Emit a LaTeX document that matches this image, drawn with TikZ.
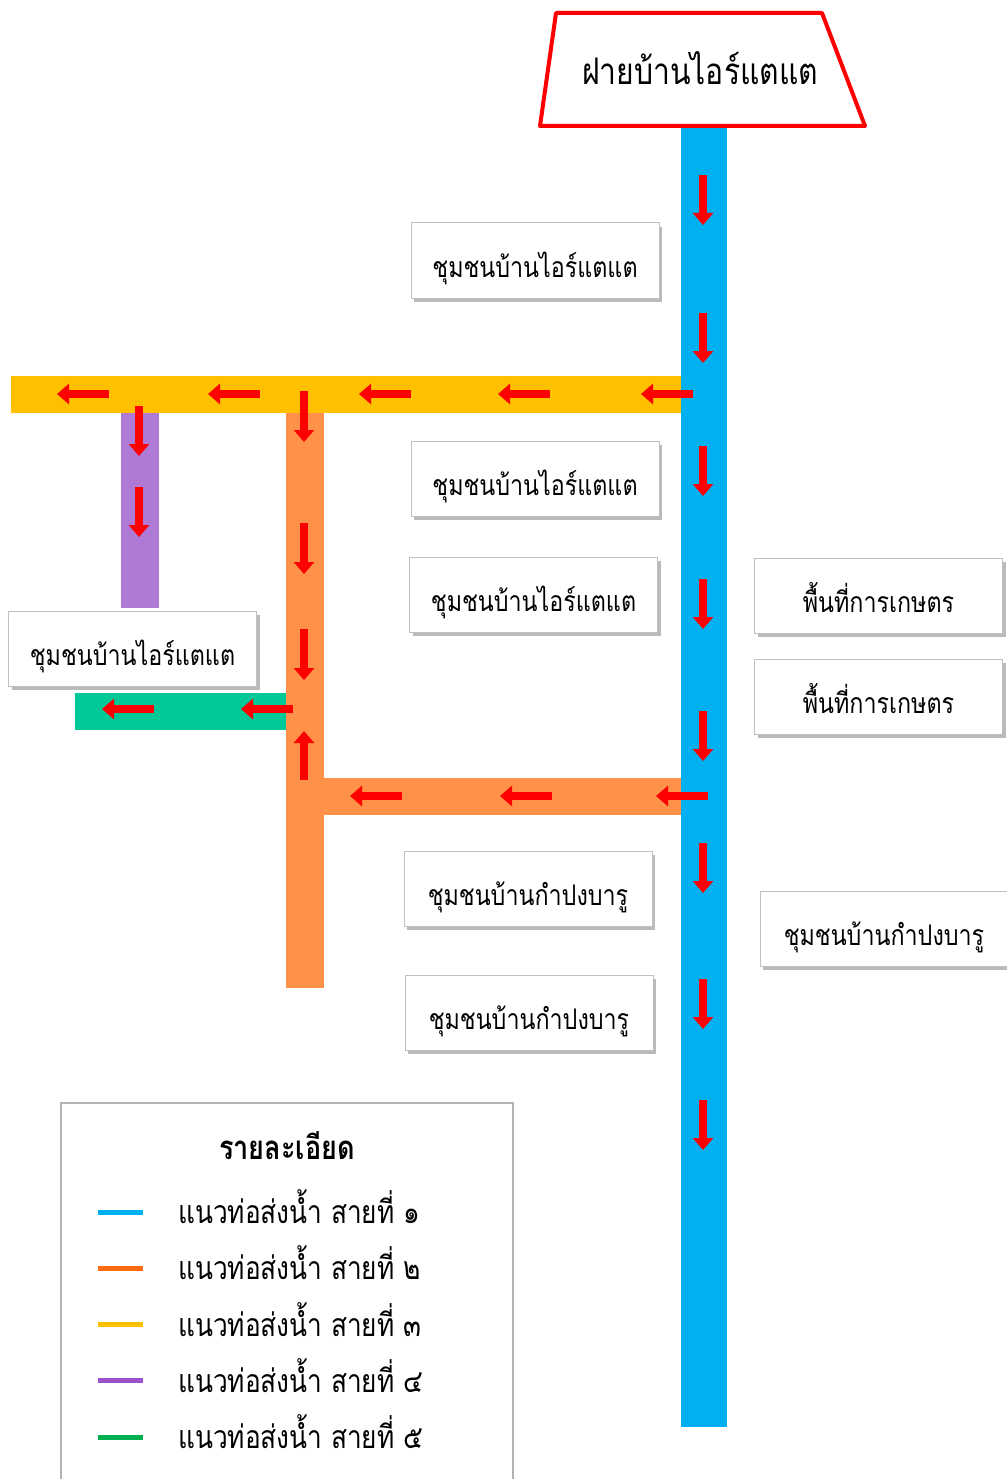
\documentclass[tikz,border=0pt]{standalone}
\usepackage{fontspec}
\newfontfamily\thaifont[Script=Thai,FakeStretch=0.82]{Loma}
\usetikzlibrary{arrows.meta,shadows}

\definecolor{pipeblue}{HTML}{00B0F0}
\definecolor{pipeorange}{HTML}{FF9148}
\definecolor{pipeyellow}{HTML}{FFC000}
\definecolor{pipepurple}{HTML}{AE7AD6}
\definecolor{pipegreen}{HTML}{00C896}
\definecolor{keyorange}{HTML}{FF6A10}
\definecolor{keypurple}{HTML}{9B50CC}
\definecolor{keygreen}{HTML}{00B050}

\tikzset{
  place/.style={draw=black!25, line width=1pt, fill=white, minimum width=248pt,
    minimum height=75pt, inner sep=0pt, text height=34pt, text depth=0pt,
    font=\thaifont\fontsize{28.4}{28}\selectfont,
    drop shadow={shadow xshift=3pt, shadow yshift=-4pt, fill=black!45, opacity=.6}},
  flowarrow/.style={red, line width=8pt, -{Triangle[width=20pt,length=12pt]}},
  keyline/.style={line width=5pt},
}

% pipe segment: x1 y1 x2 y2 colour
\NewDocumentCommand{\pipe}{mmmmm}{%
\fill[#5] (#1,#2) rectangle (#3,#4);%chktex 1
}

\begin{document}
\begin{tikzpicture}[x=1pt,y=-1pt]
\useasboundingbox (0,0) rectangle (1006,1479);

% pipes
\pipe{11}{376}{681}{413}{pipeyellow}
\pipe{121}{413}{159}{608}{pipepurple}
\pipe{75}{693}{286}{730}{pipegreen}
\pipe{286}{413}{324}{988}{pipeorange}
\pipe{324}{778}{681}{815}{pipeorange}
\pipe{681}{127}{727}{1427}{pipeblue}

% source
\draw[red, line width=4pt, fill=white, line join=round]
  (556,13) -- (822,13) -- (865,126) -- (540,126) -- cycle;
\node[font=\thaifont\fontsize{36.7}{36}\selectfont, inner sep=0pt, anchor=base]
  (source) at (700,85) {ฝายบ้านไอร์แตแต};

% places
\node[place] (v1) at (535,260.5) {ชุมชนบ้านไอร์แตแต};
\node[place] (v2) at (535,478.5) {ชุมชนบ้านไอร์แตแต};
\node[place] (v3) at (533.5,594.5) {ชุมชนบ้านไอร์แตแต};
\node[place] (v4) at (132.5,648.5) {ชุมชนบ้านไอร์แตแต};
\node[place] (f1) at (878.5,595.5) {พื้นที่การเกษตร};
\node[place] (f2) at (878.5,696.5) {พื้นที่การเกษตร};
\node[place] (k1) at (528,888.5) {ชุมชนบ้านกำปงบารู};
\node[place] (k2) at (529,1012.5) {ชุมชนบ้านกำปงบารู};
\node[place] (k3) at (884,928.5) {ชุมชนบ้านกำปงบารู};

% flow
\foreach \y in {175,313,446,579,711,843,979,1100} {
  \draw[flowarrow] (703,\y) -- ++(0,50);
}
\foreach \x in {109,260,411,550,693} {
  \draw[flowarrow] (\x,394) -- ++(-52,0);
}
\foreach \y in {406,487} {
  \draw[flowarrow] (139,\y) -- ++(0,50);
}
\foreach \y in {391,523,629} {
  \draw[flowarrow] (304,\y) -- ++(0,51);
}
\draw[flowarrow] (304,780) -- ++(0,-49);
\foreach \x in {154,293} {
  \draw[flowarrow] (\x,709) -- ++(-52,0);
}
\foreach \x in {402,552,708} {
  \draw[flowarrow] (\x,796) -- ++(-52,0);
}

% key
\draw[draw=black!30, line width=2pt, fill=white] (61,1103) rectangle (513,1500);
\node[font=\thaifont\bfseries\fontsize{33}{33}\selectfont, inner sep=0pt, anchor=base]
  (keytitle) at (287,1159) {รายละเอียด};
\foreach \c/\n [count=\i] in {pipeblue/๑,keyorange/๒,pipeyellow/๓,keypurple/๔,keygreen/๕} {
  \draw[keyline, \c] (98,1155.75+56.25*\i) -- (143,1155.75+56.25*\i);
  \node[anchor=base west, inner sep=0pt, font=\thaifont\fontsize{32}{32}\selectfont]
    (key\i) at (178,1167.25+56.25*\i) {แนวท่อส่งน้ำ สายที่ \n};
}
\end{tikzpicture}
\end{document}
